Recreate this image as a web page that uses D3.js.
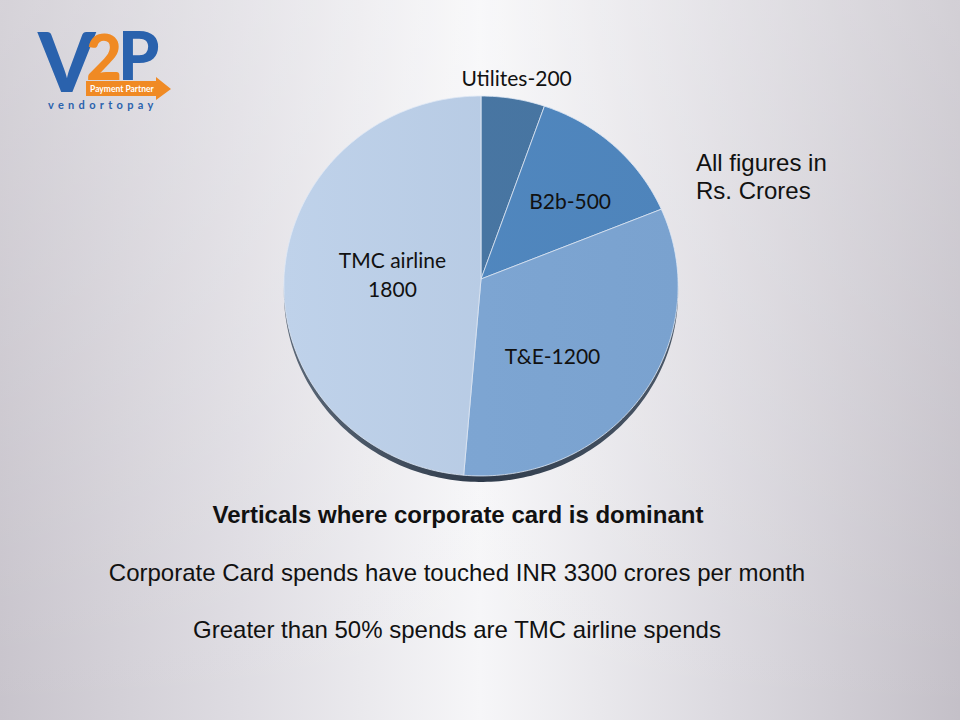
<!DOCTYPE html>
<html><head><meta charset="utf-8">
<script src="https://cdn.jsdelivr.net/npm/d3@7"></script>
<style>html,body{margin:0;padding:0;overflow:hidden;}svg{display:block;}</style>
</head><body>
<svg id="chart" width="960" height="720"></svg>
<script>
// ---- data ----
const categories = ["Utilites", "B2b", "T&E", "TMC airline"];
const values = [200, 500, 1200, 1800];
const sliceLabels = [["Utilites-200"], ["B2b-500"], ["T&E-1200"], ["TMC airline", "1800"]];
const noteLines = ["All figures in", "Rs. Crores"];
const titleText = "Verticals where corporate card is dominant";
const bodyLines = ["Corporate Card spends have touched INR 3300 crores per month",
                   "Greater than 50% spends are TMC airline spends"];

// ---- style / layout ----
const sliceColors = [["#4a77a4", "#4674a0"], ["#5289c1", "#4e84bb"], ["#80a8d5", "#7aa2cf"], ["#bfd2ea", "#b1c5df"]];
const labelPos = [[1.115, 0], [0.62, 4], [0.54, 12], [0.45, 0]];
const cx = 481, cy = 279, ax = 197, ay = 189.7, persp = -0.0368;
const labelFont = 21;

const svg = d3.select("#chart");
const defs = svg.append("defs");

const bg = defs.append("linearGradient").attr("id", "bg").attr("x1", 0).attr("x2", 1).attr("y1", 0).attr("y2", 0);
bg.append("stop").attr("offset", "0%").attr("stop-color", "#c8c4cc");
bg.append("stop").attr("offset", "25%").attr("stop-color", "#dedce2");
bg.append("stop").attr("offset", "50%").attr("stop-color", "#f6f6f8");
bg.append("stop").attr("offset", "75%").attr("stop-color", "#dcdae0");
bg.append("stop").attr("offset", "100%").attr("stop-color", "#c4c0c8");
svg.append("rect").attr("width", 960).attr("height", 720).attr("fill", "url(#bg)");
const bg2 = defs.append("linearGradient").attr("id", "bg2").attr("x1", 0).attr("x2", 0).attr("y1", 0).attr("y2", 1);
bg2.append("stop").attr("offset", "0%").attr("stop-color", "#ffffff").attr("stop-opacity", 0.25);
bg2.append("stop").attr("offset", "100%").attr("stop-color", "#ffffff").attr("stop-opacity", 0);
svg.append("rect").attr("width", 960).attr("height", 720).attr("fill", "url(#bg2)");

sliceColors.forEach((c, i) => {
  const g = defs.append("linearGradient").attr("id", "sg" + i).attr("gradientUnits", "userSpaceOnUse")
    .attr("x1", cx - ax).attr("x2", cx + ax).attr("y1", 0).attr("y2", 0);
  g.append("stop").attr("offset", "0%").attr("stop-color", c[0]);
  g.append("stop").attr("offset", "100%").attr("stop-color", c[1]);
});
const rim = defs.append("linearGradient").attr("id", "rim").attr("x1", 0).attr("x2", 1);
rim.append("stop").attr("offset", "0%").attr("stop-color", "#5b6878");
rim.append("stop").attr("offset", "50%").attr("stop-color", "#2f3b4b");
rim.append("stop").attr("offset", "100%").attr("stop-color", "#4b5868");

// perspective projection of a unit disc
function proj(theta, r) {
  const u = r * Math.sin(theta), v = -r * Math.cos(theta);
  const k = 1 + persp * v;
  return [cx + ax * u / k, cy + ay * v / k];
}
function slicePath(a0, a1) {
  const n = Math.max(8, Math.ceil((a1 - a0) / 0.02));
  const pts = [[cx, cy]];
  for (let i = 0; i <= n; i++) pts.push(proj(a0 + (a1 - a0) * i / n, 1));
  return d3.line()(pts) + "Z";
}

const pie = d3.pie().sort(null).value(d => d)(values);
const g = svg.append("g");

// 3D rim (dark edge below the disc)
g.append("path").attr("d", slicePath(0, 2 * Math.PI)).attr("transform", "translate(0,6)").attr("fill", "url(#rim)");

g.selectAll("path.slice").data(pie).join("path").attr("class", "slice")
  .attr("d", d => slicePath(d.startAngle, d.endAngle))
  .attr("fill", (d, i) => `url(#sg${i})`)
  .attr("stroke", "#dfe9f5").attr("stroke-width", 0.8).attr("stroke-linejoin", "round");

// labels
g.selectAll("text.lbl").data(pie).join("text").attr("class", "lbl")
  .attr("font-family", "Lato, 'Noto Sans', sans-serif").attr("font-size", labelFont).attr("fill", "#111")
  .attr("text-anchor", "middle")
  .each(function (d, i) {
    const mid = (d.startAngle + d.endAngle) / 2 + labelPos[i][1] * Math.PI / 180;
    const p = proj(mid, labelPos[i][0]);
    const lines = sliceLabels[i];
    const t = d3.select(this);
    lines.forEach((s, j) => {
      t.append("tspan").attr("x", p[0]).attr("y", p[1] + 7.5 + (j - (lines.length - 1) / 2) * 29).text(s);
    });
  });

// note
svg.append("text").attr("font-family", "Arial, 'Liberation Sans', sans-serif").attr("font-size", 24).attr("fill", "#111")
  .selectAll("tspan").data(noteLines).join("tspan").attr("x", 696).attr("y", (d, i) => 171 + i * 28).text(d => d);

// bottom text
svg.append("text").attr("x", 458).attr("y", 523).attr("text-anchor", "middle")
  .attr("font-family", "Arial, 'Liberation Sans', sans-serif").attr("font-weight", "bold").attr("font-size", 24)
  .attr("fill", "#111").text(titleText);
svg.selectAll("text.body").data(bodyLines).join("text").attr("class", "body")
  .attr("x", 457).attr("y", (d, i) => 581 + i * 57).attr("text-anchor", "middle")
  .attr("font-family", "Arial, 'Liberation Sans', sans-serif").attr("font-size", 24).attr("fill", "#111").text(d => d);

// logo
const logo = svg.append("g");
logo.append("text").attr("x", 38).attr("y", 92).attr("font-family", "Lato, sans-serif").attr("font-weight", 900)
  .attr("font-size", 82).attr("fill", "#2a62ad").text("V");
logo.append("text").attr("x", 86).attr("y", 80).attr("font-family", "Lato, sans-serif").attr("font-weight", 900)
  .attr("font-size", 62).attr("fill", "#f08a24").text("2");
logo.append("text").attr("x", 118).attr("y", 80).attr("font-family", "Lato, sans-serif").attr("font-weight", 900)
  .attr("font-size", 66).attr("fill", "#2a62ad").text("P");
logo.append("path").attr("d", d3.line()([[86, 81], [156, 81], [156, 77], [171, 89], [156, 100], [156, 96], [86, 96]]) + "Z")
  .attr("fill", "#f08a24");
logo.append("text").attr("x", 90).attr("y", 92).attr("font-family", "Lato, sans-serif").attr("font-weight", "bold")
  .attr("font-size", 8.5).attr("fill", "#fff").text("Payment Partner");
logo.append("text").attr("x", 48).attr("y", 109).attr("font-family", "Lato, sans-serif").attr("font-weight", "bold")
  .attr("font-size", 11).attr("letter-spacing", 4.3).attr("fill", "#2a62ad").text("vendortopay");
</script>
</body></html>
